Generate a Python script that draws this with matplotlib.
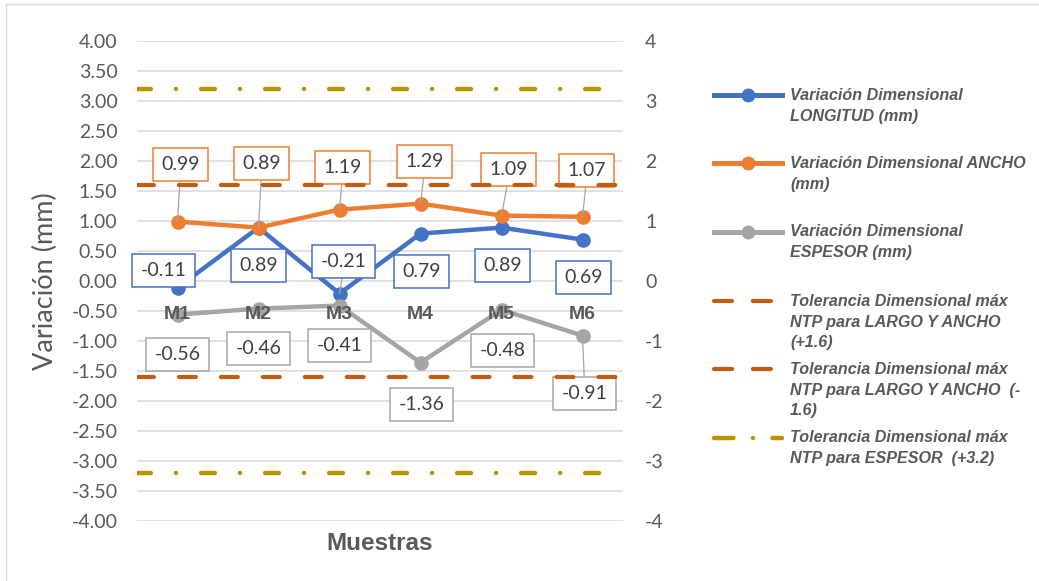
import matplotlib.pyplot as plt
from matplotlib.lines import Line2D
from matplotlib.ticker import FixedLocator, FuncFormatter

plt.rcParams["font.family"] = ["Lato", "DejaVu Sans"]
plt.rcParams["lines.scale_dashes"] = False

# measured variation per sample (mm)
samples = ["M1", "M2", "M3", "M4", "M5", "M6"]
longitud = [-0.11, 0.89, -0.21, 0.79, 0.89, 0.69]
ancho = [0.99, 0.89, 1.19, 1.29, 1.09, 1.07]
espesor = [-0.56, -0.46, -0.41, -1.36, -0.48, -0.91]

# NTP tolerances (mm)
tol_largo_ancho = 1.6
tol_espesor = 3.2

left_ticks = [-4 + 0.5 * i for i in range(17)]
right_ticks = list(range(-4, 5))

legend_labels = [
    "Variación Dimensional\nLONGITUD (mm)",
    "Variación Dimensional ANCHO\n(mm)",
    "Variación Dimensional\nESPESOR (mm)",
    "Tolerancia Dimensional máx\nNTP para LARGO Y ANCHO\n(+1.6)",
    "Tolerancia Dimensional máx\nNTP para LARGO Y ANCHO  (-\n1.6)",
    "Tolerancia Dimensional máx\nNTP para ESPESOR  (+3.2)",
]

BLUE = "#4472C4"
ORANGE = "#ED7D31"
GREY = "#A5A5A5"
RUST = "#C55A11"
GOLD = "#BF9000"
TEXT = "#595959"
GRID = "#D9D9D9"
BOLD_FONT = "Liberation Sans"

W, H = 1039, 581


def fx(px):
    return px / W


def fy(py):
    return 1 - py / H


fig = plt.figure(figsize=(W / 100, H / 100), dpi=100)
ax = fig.add_axes([fx(137), fy(521), fx(623) - fx(137), fy(41) - fy(521)])

x = list(range(len(samples)))
ax.set_xlim(-0.5, len(samples) - 0.5)
ax.set_ylim(-4, 4)

# horizontal gridlines sit under everything
for t in left_ticks:
    ax.axhline(t, color=GRID, lw=1.1, zorder=0.5)

ax.yaxis.set_major_locator(FixedLocator(left_ticks))
ax.yaxis.set_major_formatter(FuncFormatter(lambda v, _: f"{v + 0.0:.2f}"))
for s in ax.spines.values():
    s.set_visible(False)
ax.spines["bottom"].set_position(("data", 0))
ax.set_xticks(x)
ax.set_xticklabels(samples, fontweight="bold", fontsize=14, color=TEXT,
                   family=BOLD_FONT)
ax.xaxis.set_zorder(2.6)
ax.tick_params(axis="x", length=0, pad=18)
ax.tick_params(axis="y", length=0, pad=14, labelsize=14, labelcolor=TEXT)
ax.set_ylabel("Variación (mm)", fontsize=19.5, color=TEXT, labelpad=10)
ax.set_xlabel("Muestras", fontsize=17.5, fontweight="bold", color=TEXT,
              family=BOLD_FONT)
ax.xaxis.set_label_coords(0.5, -0.022)

# right-hand axis
ax2 = ax.twinx()
ax2.set_ylim(-4, 4)
ax2.set_yticks(right_ticks)
ax2.set_yticklabels([str(t) for t in right_ticks])
ax2.tick_params(axis="y", length=0, pad=16, labelsize=14, labelcolor=TEXT)
for s in ax2.spines.values():
    s.set_visible(False)

# tolerance lines
dash_red = (0, (12.2, 18))
dash_gold = (0, (10, 18, 0.1, 18))
edge = [-0.5, len(samples) - 0.5]
for v in (tol_largo_ancho, -tol_largo_ancho):
    ax.plot(edge, [v, v], color=RUST, lw=3, ls=dash_red,
            dash_capstyle="round", zorder=4)
for v in (tol_espesor, -tol_espesor):
    ax.plot(edge, [v, v], color=GOLD, lw=3.2, ls=dash_gold,
            dash_capstyle="round", zorder=4)

# series
series = [(longitud, BLUE), (ancho, ORANGE), (espesor, GREY)]
for vals, col in series:
    ax.plot(x, vals, color=col, lw=3.2, marker="o", ms=9.5, zorder=2)

# label offsets in pixels (dx, dy) and leader anchor on the box, if any
label_layout = {
    "longitud": [(-14, 17, None), (0, -38, None), (4, 32, (0.5, 0)),
                 (1, -38, None), (1, -38, None), (1, -38, None)],
    "ancho": [(3, 57, (0.5, 0)), (3, 64, (0.5, 0)), (3, 42, (0.5, 0)),
              (4, 42, (0.5, 0)), (7, 46, (0.5, 0)), (4, 46, (0.5, 0))],
    "espesor": [(0, -40, None), (0, -40, None), (0, -40, None),
                (1, -42, None), (1, -41, None), (2, -58, (0.5, 1))],
}
for (vals, col), key in zip(series, ["longitud", "ancho", "espesor"]):
    for i, v in enumerate(vals):
        dx, dy, rel = label_layout[key][i]
        arrow = None
        if rel is not None:
            arrow = dict(arrowstyle="-", color="#A6A6A6", lw=0.9,
                         shrinkA=0, shrinkB=0, relpos=rel)
        ax.annotate(f"{v:.2f}", (i, v), xytext=(dx, dy),
                    textcoords="offset pixels", ha="center", va="center",
                    fontsize=14, color="#404040", zorder=3,
                    bbox=dict(boxstyle="square,pad=0.42", fc="white",
                              ec=col, lw=1.1),
                    arrowprops=arrow)

# legend, drawn in figure pixels
legend_styles = [
    dict(color=BLUE, lw=3.6, marker="o", ms=9, markevery=[1]),
    dict(color=ORANGE, lw=3.6, marker="o", ms=9, markevery=[1]),
    dict(color=GREY, lw=3.6, marker="o", ms=9, markevery=[1]),
    dict(color=RUST, lw=3, ls=(0, (13, 15)), dash_capstyle="round"),
    dict(color=RUST, lw=3, ls=(0, (13, 15)), dash_capstyle="round"),
    dict(color=GOLD, lw=3.2, ls=(0, (14, 14, 0.1, 14)), dash_capstyle="round"),
]
legend_y = [95, 163, 232, 301, 369, 438]
for lab, style, y in zip(legend_labels, legend_styles, legend_y):
    fig.add_artist(Line2D([fx(714), fx(748), fx(782)], [fy(y)] * 3,
                          transform=fig.transFigure, **style))
    fig.text(fx(790), fy(y - 7.5), lab, ha="left", va="top",
             fontsize=11.6, fontweight="bold", fontstyle="italic",
             family=BOLD_FONT, color=TEXT, linespacing=1.5)

# chart frame (top and left edges)
fig.add_artist(Line2D([fx(6), 1], [fy(4), fy(4)], transform=fig.transFigure,
                      color=GRID, lw=1))
fig.add_artist(Line2D([fx(6), fx(6)], [fy(4), 0], transform=fig.transFigure,
                      color=GRID, lw=1))

fig.savefig("out.png", dpi=100, facecolor="white")
